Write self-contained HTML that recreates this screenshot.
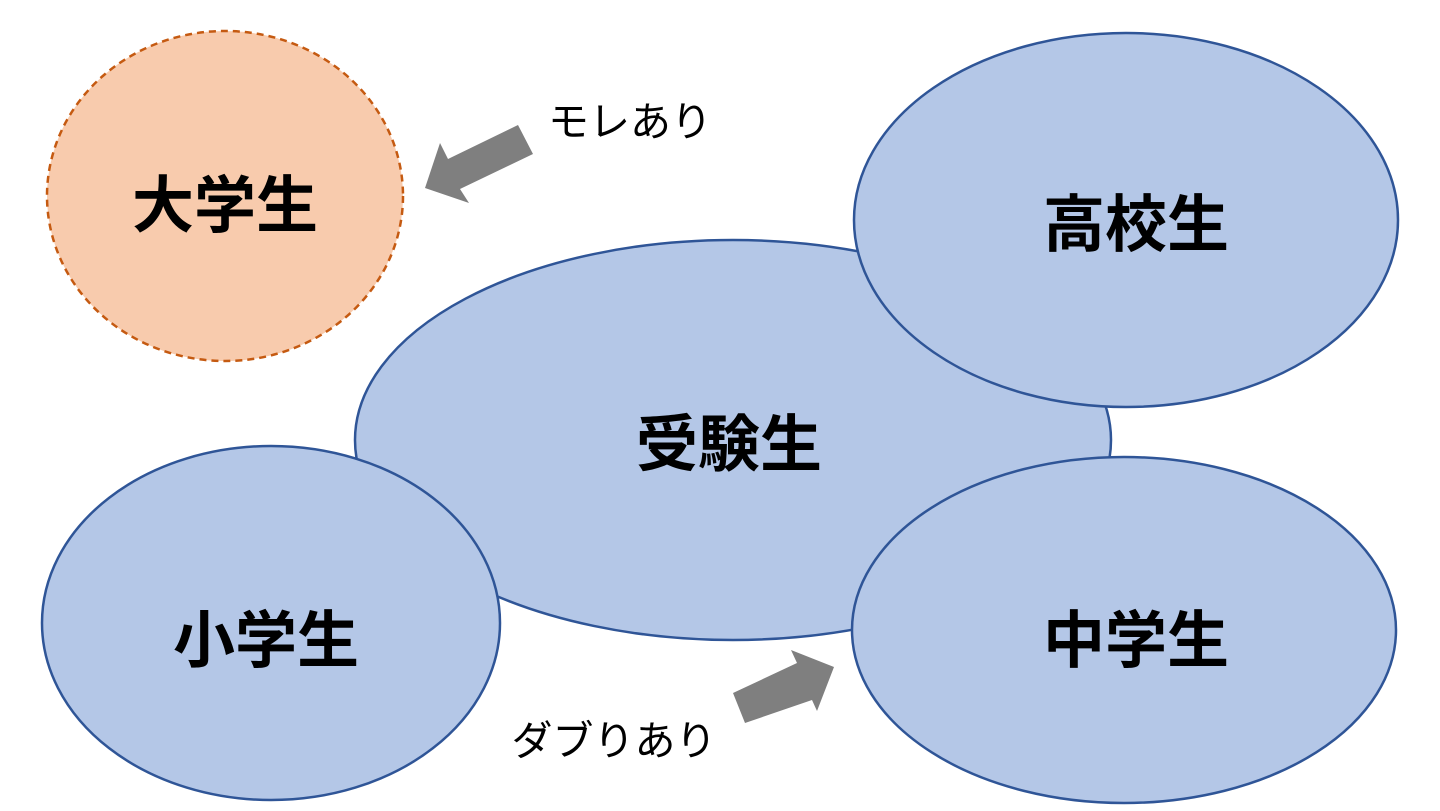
<!DOCTYPE html>
<html><head><meta charset="utf-8"><style>
html,body{margin:0;padding:0;background:#fff;width:1440px;height:811px;overflow:hidden}
</style></head><body>
<svg width="1440" height="811" viewBox="0 0 1440 811" xmlns="http://www.w3.org/2000/svg">
<g font-family="Liberation Sans, Noto Sans CJK JP, sans-serif">
<ellipse cx="225" cy="196" rx="178" ry="165" fill="#F8CBAD" stroke="#C55A11" stroke-width="2.5" stroke-dasharray="7,5"/>
<ellipse cx="733" cy="440" rx="378" ry="200" fill="#B4C7E7" stroke="#2F5597" stroke-width="2.5"/>
<ellipse cx="1126" cy="220" rx="272" ry="187" fill="#B4C7E7" stroke="#2F5597" stroke-width="2.5"/>
<ellipse cx="271" cy="623" rx="229" ry="177" fill="#B4C7E7" stroke="#2F5597" stroke-width="2.5"/>
<ellipse cx="1124" cy="630" rx="272" ry="173" fill="#B4C7E7" stroke="#2F5597" stroke-width="2.5"/>
<polygon points="518,125 533,154 460,189 469,203 425,188 440,143 448,159" fill="#7F7F7F"/>
<polygon points="733,693 797,663 791,650 834,667 817,711 812,700 745,723" fill="#7F7F7F"/>
<g font-weight="bold" font-size="62" text-anchor="middle" fill="#000">
<text x="225" y="227">大学生</text>
<text x="1136" y="246">高校生</text>
<text x="729" y="466">受験生</text>
<text x="266" y="662">小学生</text>
<text x="1136" y="662">中学生</text>
</g>
<text x="630" y="136" font-size="41" text-anchor="middle">モレあり</text>
<text x="614" y="755" font-size="41" text-anchor="middle">ダブりあり</text>
</g>
</svg>
</body></html>
